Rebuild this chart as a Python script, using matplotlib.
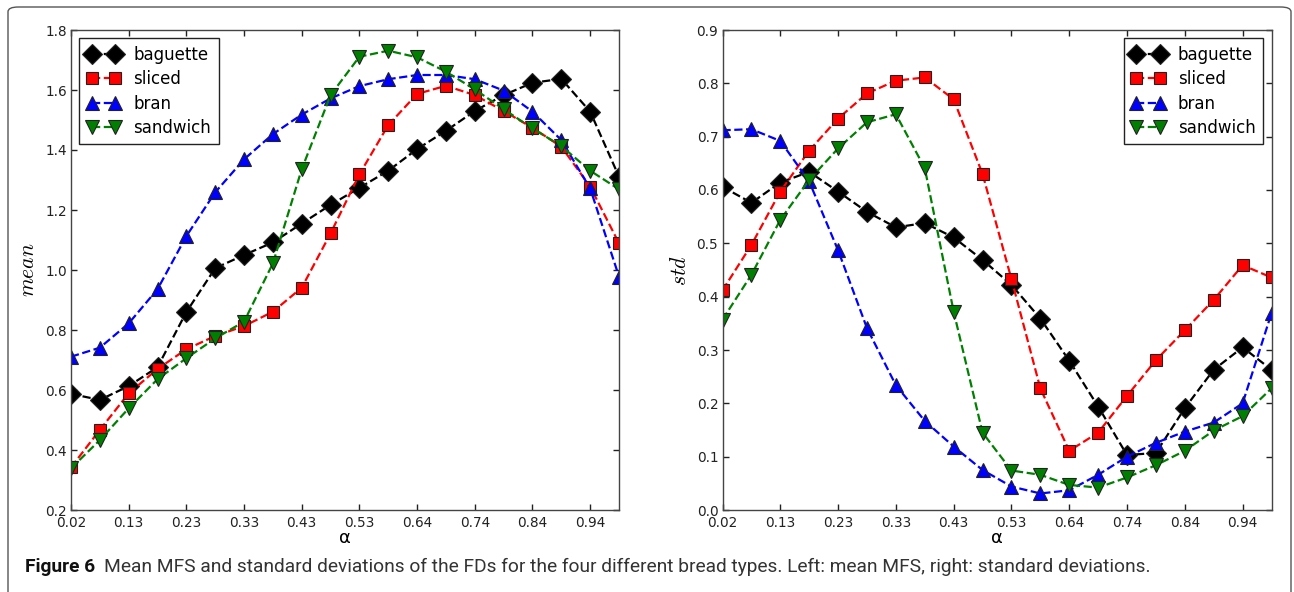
import matplotlib
matplotlib.use('Agg')
import matplotlib.pyplot as plt
from matplotlib import font_manager
from matplotlib.patches import FancyBboxPatch
import numpy as np

# alpha tick labels (every second sample)
alpha_labels = ['0.02', '0.13', '0.23', '0.33', '0.43', '0.53', '0.64', '0.74', '0.84', '0.94']
breads = ['baguette', 'sliced', 'bran', 'sandwich']

# mean MFS
mean_baguette = [0.587, 0.567, 0.613, 0.676, 0.86, 1.006, 1.05, 1.092, 1.155, 1.217,
                 1.274, 1.331, 1.403, 1.464, 1.53, 1.583, 1.624, 1.637, 1.528, 1.311]
mean_sliced = [0.342, 0.467, 0.589, 0.67, 0.736, 0.78, 0.813, 0.861, 0.941, 1.122,
               1.319, 1.483, 1.587, 1.614, 1.583, 1.53, 1.474, 1.411, 1.278, 1.089]
mean_bran = [0.711, 0.741, 0.822, 0.936, 1.113, 1.259, 1.369, 1.453, 1.518, 1.572,
             1.613, 1.636, 1.65, 1.65, 1.636, 1.598, 1.528, 1.433, 1.272, 0.978]
mean_sandwich = [0.339, 0.433, 0.539, 0.636, 0.706, 0.772, 0.828, 1.022, 1.336, 1.583,
                 1.711, 1.731, 1.709, 1.661, 1.602, 1.536, 1.472, 1.413, 1.331, 1.269]

# standard deviations
std_baguette = [0.606, 0.576, 0.614, 0.634, 0.597, 0.559, 0.53, 0.538, 0.511, 0.469,
                0.422, 0.359, 0.28, 0.194, 0.103, 0.107, 0.191, 0.263, 0.305, 0.263]
std_sliced = [0.412, 0.497, 0.597, 0.674, 0.734, 0.781, 0.805, 0.811, 0.77, 0.63,
              0.433, 0.228, 0.111, 0.145, 0.214, 0.281, 0.337, 0.394, 0.459, 0.436]
std_bran = [0.712, 0.714, 0.692, 0.616, 0.487, 0.341, 0.234, 0.167, 0.119, 0.075,
            0.044, 0.031, 0.037, 0.066, 0.1, 0.126, 0.147, 0.164, 0.2, 0.369]
std_sandwich = [0.357, 0.441, 0.544, 0.619, 0.678, 0.727, 0.742, 0.641, 0.372, 0.145,
                0.074, 0.066, 0.047, 0.042, 0.061, 0.084, 0.111, 0.149, 0.176, 0.228]

styles = [('k', 'D', 10), ('r', 's', 8.5), ('b', '^', 9.5), ('g', 'v', 9.5)]

plt.rcParams['mathtext.fontset'] = 'cm'
plt.rcParams['font.family'] = 'DejaVu Sans'

W, H = 1294, 592
fig = plt.figure(figsize=(W / 100, H / 100), dpi=100)

# rounded frame around the whole figure (bottom edge runs off the image)
frame = FancyBboxPatch((8 / W, -12 / H), 1283 / W, 597 / H,
                       boxstyle='round,pad=0,rounding_size=0.008',
                       transform=fig.transFigure, fill=False,
                       edgecolor='#555555', linewidth=1.0, clip_on=False)
fig.patches.append(frame)

ax1 = fig.add_axes([71 / W, 1 - 510 / H, 548 / W, 480 / H])
ax2 = fig.add_axes([722.5 / W, 1 - 510 / H, 549 / W, 480 / H])


def draw_panel(ax, series, ylim, yticks, ylabel, legend_loc):
    n = len(series[0])
    x = np.arange(n)
    for vals, name, (c, m, ms) in zip(series, breads, styles):
        ax.plot(x, vals, color=c, linestyle='--', linewidth=1.6, marker=m,
                markersize=ms, markerfacecolor=c, markeredgecolor='#222222',
                markeredgewidth=0.8, label=name)
    ax.set_xlim(0, n - 1)
    ax.set_ylim(*ylim)
    ax.set_xticks(x[::2])
    ax.set_xticklabels(alpha_labels)
    ax.set_yticks(yticks)
    ax.set_yticklabels(['%.1f' % v for v in yticks])
    ax.tick_params(direction='in', top=True, right=True, length=4, width=1,
                   labelsize=9.8, colors='#222222', pad=3)
    ax.tick_params(axis='x', pad=4.5)
    for sp in ax.spines.values():
        sp.set_color('#444444')
        sp.set_linewidth(1.0)
    ax.set_xlabel(r'α', fontsize=13, labelpad=-1)
    ax.set_ylabel(ylabel, fontsize=15.5, labelpad=5)
    leg = ax.legend(loc=legend_loc, numpoints=2, fontsize=12, handlelength=2.0,
                    handletextpad=0.8, labelspacing=0.38, borderpad=0.45,
                    borderaxespad=0.5, fancybox=False, framealpha=1)
    leg.get_frame().set_edgecolor('#222222')
    leg.get_frame().set_linewidth(1.0)


draw_panel(ax1, [mean_baguette, mean_sliced, mean_bran, mean_sandwich],
           (0.2, 1.8), np.arange(0.2, 1.81, 0.2), r'$mean$', 'upper left')
draw_panel(ax2, [std_baguette, std_sliced, std_bran, std_sandwich],
           (0.0, 0.9), np.arange(0.0, 0.91, 0.1), r'$std$', 'upper right')

# caption: prefer a narrow face, like the journal's condensed sans
cap_font = 'Roboto'
for cand in ['Liberation Sans Narrow', 'Roboto']:
    try:
        font_manager.findfont(cand, fallback_to_default=False)
        cap_font = cand
        break
    except Exception:
        pass

fs = 12.5
t1 = fig.text(25 / W, 1 - 567 / H, 'Figure 6', fontsize=fs, fontweight='bold',
              family=cap_font, va='center', ha='left', color='#111111')
fig.canvas.draw()
r = fig.canvas.get_renderer()
bb = t1.get_window_extent(r)
t2 = fig.text((bb.x1 + 8) / W, 1 - 567 / H,
              'Mean MFS and standard deviations of the FDs for the four different bread types. '
              'Left: mean MFS, right: standard deviations.',
              fontsize=fs, family=cap_font, va='center', ha='left', color='#333333')
fig.canvas.draw()
bb2 = t2.get_window_extent(r)
# fit the caption to the reference width
scale = (1148 - bb.x0) / (bb2.x1 - bb.x0)
if abs(scale - 1) > 0.01:
    t1.set_fontsize(fs * scale)
    fig.canvas.draw()
    bb = t1.get_window_extent(r)
    t2.set_fontsize(fs * scale)
    t2.set_x((bb.x1 + 8 * scale) / W)

fig.savefig('out.png', dpi=100)
